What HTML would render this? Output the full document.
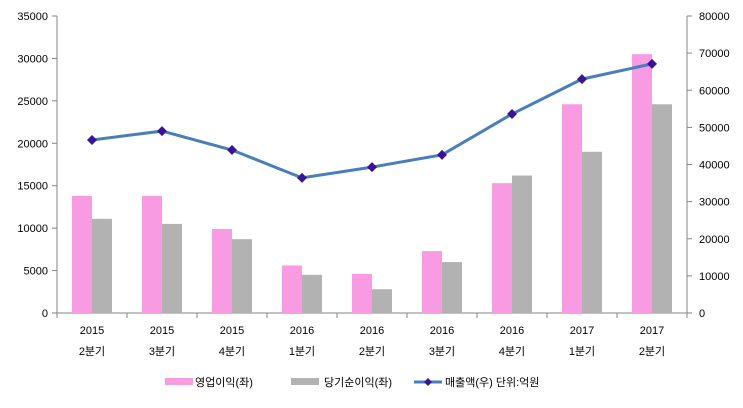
<!DOCTYPE html>
<html><head><meta charset="utf-8"><style>
body{margin:0;background:#fff}
svg text{font-family:"Liberation Sans","Noto Sans CJK KR",sans-serif;font-size:11px;fill:#000}
</style></head><body>
<svg width="743" height="403" id="c"></svg>
<script>
const categories=["2015|2분기","2015|3분기","2015|4분기","2016|1분기","2016|2분기","2016|3분기","2016|4분기","2017|1분기","2017|2분기"];
const opProfit=[13800,13800,9900,5600,4600,7300,15300,24600,30500];
const netProfit=[11100,10500,8700,4500,2800,6000,16200,19000,24600];
const sales=[46600,49000,43900,36400,39300,42600,53600,63000,67100];
const leftTicks=[0,5000,10000,15000,20000,25000,30000,35000];
const rightTicks=[0,10000,20000,30000,40000,50000,60000,70000,80000];
const NS="http://www.w3.org/2000/svg",svg=document.getElementById('c');
const X0=57,X1=687,Y0=313,Y1=16,step=(X1-X0)/categories.length;
const yL=v=>Y0-(v/35000)*(Y0-Y1), yR=v=>Y0-(v/80000)*(Y0-Y1), xc=i=>X0+step*(i+0.5);
function el(t,a,txt){const e=document.createElementNS(NS,t);for(const k in a)e.setAttribute(k,a[k]);if(txt!=null)e.textContent=txt;svg.appendChild(e);return e;}
let e;
e=el('line',{x1:X0,y1:Y1,x2:X0,y2:Y0,stroke:'#868686'});


e=el('line',{x1:X1,y1:Y1,x2:X1,y2:Y0,stroke:'#868686'});


e=el('line',{x1:X0,y1:Y0,x2:X1,y2:Y0,stroke:'#868686'});


leftTicks.forEach(v=>{const y=yL(v);el('line',{x1:X0-5,y1:y,x2:X0,y2:y,stroke:'#868686'});
 e=el('text',{x:X0-9,y:y+4,'text-anchor':'end'},v);
 
 });
rightTicks.forEach(v=>{const y=yR(v);el('line',{x1:X1,y1:y,x2:X1+5,y2:y,stroke:'#868686'});
 e=el('text',{x:X1+12,y:y+4},v);
 
 });
for(let i=0;i<=categories.length;i++){const x=X0+step*i;el('line',{x1:x,y1:Y0,x2:x,y2:Y0+5,stroke:'#868686'});}
categories.forEach((c,i)=>{const [a,b]=c.split('|');const x=xc(i);
 e=el('rect',{x:x-20,y:yL(opProfit[i]),width:20,height:Y0-yL(opProfit[i]),fill:'#f99be2'});
 
 
 e=el('rect',{x:x,y:yL(netProfit[i]),width:20,height:Y0-yL(netProfit[i]),fill:'#b2b2b2'});
 
 
 e=el('text',{x:x,y:334,'text-anchor':'middle'},a);
 
 
 e=el('text',{x:x,y:355,'text-anchor':'middle','font-size':'12'},b);
 
 });
e=el('polyline',{points:sales.map((v,i)=>xc(i)+','+yR(v)).join(' '),fill:'none',stroke:'#4a7ebb',"stroke-width":3});


sales.forEach((v,i)=>{const x=xc(i),y=yR(v);
 e=el('polygon',{points:`${x},${y-5} ${x+5},${y} ${x},${y+5} ${x-5},${y}`,fill:'#3b1496'});
 
 });
e=el('rect',{x:165,y:378,width:28,height:7,fill:'#f99be2'});


e=el('text',{x:195,y:386,'font-size':'12'},'영업이익(좌)');


e=el('rect',{x:291,y:378,width:28,height:7,fill:'#b2b2b2'});


e=el('text',{x:324,y:386,'font-size':'12'},'당기순이익(좌)');


el('line',{x1:414,y1:382,x2:442,y2:382,stroke:'#4a7ebb','stroke-width':3});
e=el('polygon',{points:'428,378 432,382 428,386 424,382',fill:'#3b1496'});


e=el('text',{x:445,y:386,'font-size':'12'},'매출액(우)  단위:억원');


</script>
</body></html>
